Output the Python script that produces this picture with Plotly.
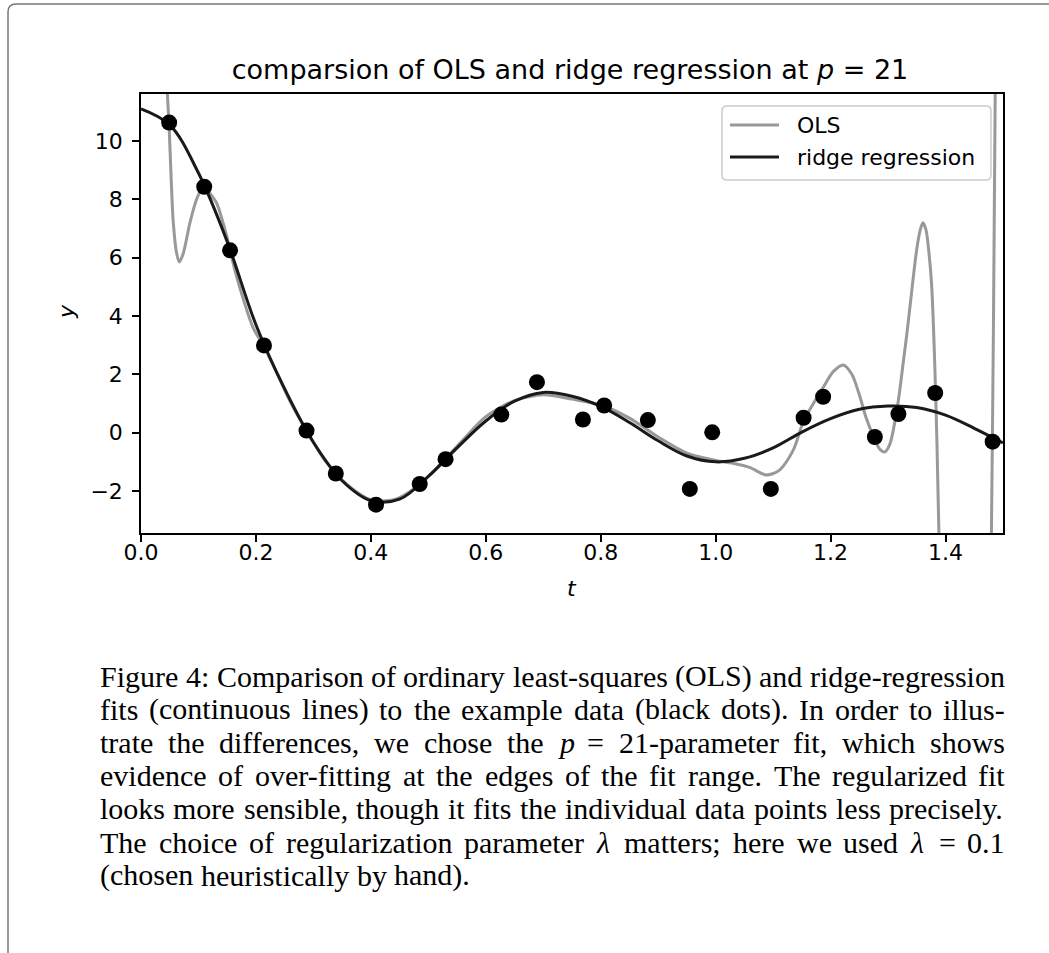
import re
import plotly.graph_objects as go

# ---- data ----
data_t = [0.049, 0.110, 0.155, 0.214, 0.288, 0.339, 0.409, 0.485, 0.530, 0.627, 0.689, 0.769,
          0.806, 0.882, 0.955, 0.994, 1.096, 1.153, 1.187, 1.277, 1.318, 1.382, 1.482]
data_y = [10.63, 8.43, 6.25, 2.99, 0.07, -1.40, -2.47, -1.76, -0.91, 0.62, 1.73, 0.45,
          0.93, 0.43, -1.93, 0.01, -1.93, 0.51, 1.23, -0.15, 0.64, 1.36, -0.31]

ols_t = [0.030, 0.040, 0.046, 0.0487, 0.0525, 0.0562, 0.062, 0.0667, 0.0736, 0.0852, 0.0968,
         0.106, 0.113, 0.122, 0.132, 0.149, 0.155, 0.165, 0.18, 0.195, 0.214, 0.235, 0.26,
         0.288, 0.32, 0.36, 0.40, 0.44, 0.48, 0.52, 0.56, 0.60, 0.65, 0.70, 0.75, 0.80, 0.85,
         0.90, 0.95, 1.00, 1.03, 1.06, 1.088, 1.11, 1.135, 1.153, 1.17, 1.187, 1.205, 1.222,
         1.237, 1.25, 1.262, 1.275, 1.285, 1.294, 1.303, 1.313, 1.32, 1.327, 1.334, 1.342,
         1.35, 1.356, 1.3606, 1.366, 1.371, 1.376, 1.381, 1.385, 1.39, 1.40, 1.43, 1.46,
         1.473, 1.4795, 1.4815, 1.4835, 1.4875, 1.495, 1.50]
ols_y = [40, 16, 11.6, 10.6, 8.7, 7.2, 6.15, 5.85, 6.15, 7.2, 8.0,
         8.35, 8.35, 8.15, 7.85, 6.75, 6.25, 5.45, 4.45, 3.6, 2.95, 2.1, 1.05,
         0.07, -0.95, -1.8, -2.3, -2.3, -1.85, -1.1, -0.25, 0.55, 1.1, 1.3, 1.15, 0.95, 0.5,
         -0.15, -0.7, -0.95, -1.05, -1.2, -1.45, -1.3, -0.6, 0.4, 1.0, 1.55, 2.1, 2.32,
         2.0, 1.3, 0.5, -0.15, -0.55, -0.66, -0.4, 0.5, 1.4, 2.5, 3.6, 5.0,
         6.3, 6.95, 7.2, 6.95, 6.2, 5.0, 2.5, -0.3, -5, -30, -120, -60,
         -15, -4, -0.3, 4, 15, 50, 80]

ridge_t = [0.00, 0.05, 0.10, 0.15, 0.20, 0.25, 0.30, 0.35, 0.40, 0.45, 0.50, 0.55, 0.60, 0.65,
           0.70, 0.75, 0.80, 0.85, 0.90, 0.95, 1.00, 1.05, 1.10, 1.15, 1.20, 1.25, 1.30, 1.35,
           1.40, 1.45, 1.50]
ridge_y = [11.10, 10.55, 8.90, 6.55, 3.70, 1.50, -0.33, -1.65, -2.33, -2.28, -1.50, -0.52, 0.40,
           1.08, 1.38, 1.25, 0.90, 0.35, -0.28, -0.80, -1.00, -0.88, -0.52, 0.02, 0.48, 0.80,
           0.91, 0.86, 0.60, 0.15, -0.35]

x_ticks = [0.0, 0.2, 0.4, 0.6, 0.8, 1.0, 1.2, 1.4]
x_ticklabels = ["0.0", "0.2", "0.4", "0.6", "0.8", "1.0", "1.2", "1.4"]
y_ticks = [-2, 0, 2, 4, 6, 8, 10]
y_ticklabels = ["\u22122", "0", "2", "4", "6", "8", "10"]

legend_names = ["OLS", "ridge regression"]

caption_lines = [
    "Figure 4: Comparison of ordinary least-squares (OLS) and ridge-regression",
    "fits (continuous lines) to the example data (black dots). In order to illus-",
    "trate the differences, we chose the <i>p</i> = 21-parameter fit, which shows",
    "evidence of over-fitting at the edges of the fit range. The regularized fit",
    "looks more sensible, though it fits the individual data points less precisely.",
    "The choice of regularization parameter <i>\u03bb</i> matters; here we used <i>\u03bb</i> = 0.1",
    "(chosen heuristically by hand).",
]
caption_justified = [True, True, True, True, True, True, False]

# ---- layout geometry (pixels) ----
W, H = 1049, 953
L, R, T, B = 141, 1003, 94, 533
PW, PH = R - L, B - T


def px(X):
    return (X - L) / PW


def py(Y):
    return (B - Y) / PH


SANS = "DejaVu Sans"
SERIF = "Liberation Serif"
GRAY = "#999999"
DARK = "#1a1a1a"

fig = go.Figure()
fig.add_trace(go.Scatter(x=ols_t, y=ols_y, mode="lines", name=legend_names[0],
                         line=dict(color=GRAY, width=3, shape="spline", smoothing=0.8)))
fig.add_trace(go.Scatter(x=ridge_t, y=ridge_y, mode="lines", name=legend_names[1],
                         line=dict(color=DARK, width=3, shape="spline", smoothing=1.0)))
fig.add_trace(go.Scatter(x=data_t, y=data_y, mode="markers", name="data",
                         marker=dict(color="black", size=16, line=dict(width=0))))

axis_common = dict(showgrid=False, zeroline=False, showline=True, linecolor="black",
                   linewidth=1.5, mirror=True, ticks="outside", ticklen=7, tickwidth=1.5,
                   tickcolor="black", tickfont=dict(family=SANS, size=22, color="black"))

fig.update_layout(
    width=W, height=H,
    margin=dict(l=L, r=W - R, t=T, b=H - B, pad=0),
    paper_bgcolor="white", plot_bgcolor="white",
    xaxis=dict(range=[0, 1.5], tickvals=x_ticks, ticktext=x_ticklabels,
               ticklabelstandoff=-8, **axis_common),
    yaxis=dict(range=[-3.44, 11.61], tickvals=y_ticks, ticktext=y_ticklabels,
               ticklabelstandoff=5, **axis_common),
    title=dict(text="comparsion of OLS and ridge regression at <i>p</i> = 21",
               font=dict(family=SANS, size=27, color="black"),
               x=px(570), xref="paper", xanchor="center",
               y=1 - 70 / H, yref="container", yanchor="middle"),
    showlegend=False,
)

annotations = [
    dict(text="<i>t</i>", x=px(572), y=py(588), xref="paper", yref="paper",
         xanchor="center", yanchor="middle", showarrow=False,
         font=dict(family=SANS, size=22, color="black")),
    dict(text="<i>y</i>", x=px(66), y=py(312), xref="paper", yref="paper",
         xanchor="center", yanchor="middle", showarrow=False, textangle=-90,
         font=dict(family=SANS, size=22, color="black")),
]

# ---- hand-drawn legend (matplotlib style) ----
lx0, lx1, ly0, ly1, rad = 722, 991, 106, 180, 5
legend_path = (f"M {px(lx0 + rad)},{py(ly0)} L {px(lx1 - rad)},{py(ly0)} "
               f"Q {px(lx1)},{py(ly0)} {px(lx1)},{py(ly0 + rad)} "
               f"L {px(lx1)},{py(ly1 - rad)} Q {px(lx1)},{py(ly1)} {px(lx1 - rad)},{py(ly1)} "
               f"L {px(lx0 + rad)},{py(ly1)} Q {px(lx0)},{py(ly1)} {px(lx0)},{py(ly1 - rad)} "
               f"L {px(lx0)},{py(ly0 + rad)} Q {px(lx0)},{py(ly0)} {px(lx0 + rad)},{py(ly0)} Z")
fig.add_shape(type="path", xref="paper", yref="paper", path=legend_path, layer="above",
              fillcolor="rgba(255,255,255,0.8)", line=dict(color="#cccccc", width=1.5))
for name, col, yy in zip(legend_names, [GRAY, DARK], [125, 157]):
    fig.add_shape(type="line", xref="paper", yref="paper", layer="above",
                  x0=px(730), x1=px(779), y0=py(yy), y1=py(yy),
                  line=dict(color=col, width=3))
    annotations.append(dict(text=name, x=px(795), y=py(yy), xref="paper", yref="paper",
                            xanchor="left", yanchor="middle", showarrow=False,
                            font=dict(family=SANS, size=22, color="black")))

# ---- caption, justified word by word (Times-compatible advance widths) ----
TW = {' ': 250, '!': 333, '(': 333, ')': 333, ',': 250, '-': 333, '.': 250, ':': 278,
      ';': 278, '=': 564, '0': 500, '1': 500, '2': 500, '3': 500, '4': 500, '5': 500,
      '6': 500, '7': 500, '8': 500, '9': 500,
      'A': 722, 'B': 667, 'C': 667, 'D': 722, 'E': 611, 'F': 556, 'G': 722, 'H': 722,
      'I': 333, 'J': 389, 'K': 722, 'L': 611, 'M': 889, 'N': 722, 'O': 722, 'P': 556,
      'Q': 722, 'R': 667, 'S': 556, 'T': 611, 'U': 722, 'V': 722, 'W': 944, 'X': 722,
      'Y': 722, 'Z': 611,
      'a': 444, 'b': 500, 'c': 444, 'd': 500, 'e': 444, 'f': 333, 'g': 500, 'h': 500,
      'i': 278, 'j': 278, 'k': 500, 'l': 278, 'm': 778, 'n': 500, 'o': 500, 'p': 500,
      'q': 500, 'r': 333, 's': 389, 't': 278, 'u': 500, 'v': 500, 'w': 722, 'x': 500,
      'y': 500, 'z': 444, '\u03bb': 550}
CAP_SIZE = 30
CAP_LEFT, CAP_RIGHT = 100, 1005
cap_y = [676, 709, 742, 775, 808, 842, 875]


def word_width(w):
    plain = re.sub(r"<[^>]+>", "", w)
    return sum(TW.get(c, 500) for c in plain) * CAP_SIZE / 1000.0


for line, yc, just in zip(caption_lines, cap_y, caption_justified):
    words = line.split(" ")
    widths = [word_width(w) for w in words]
    if just and len(words) > 1:
        gap = (CAP_RIGHT - CAP_LEFT - sum(widths)) / (len(words) - 1)
    else:
        gap = TW[' '] * CAP_SIZE / 1000.0
    xcur = CAP_LEFT
    for w, ww in zip(words, widths):
        annotations.append(dict(text=w, x=px(xcur), y=py(yc), xref="paper", yref="paper",
                                xanchor="left", yanchor="middle", showarrow=False,
                                borderpad=0, borderwidth=0,
                                font=dict(family=SERIF, size=CAP_SIZE, color="black")))
        xcur += ww + gap

fig.update_layout(annotations=annotations)

# page frame (left and top edges with rounded corner)
x0, y0 = px(8), py(4)
x1, ybot = px(1049 + 5), py(953 + 5)
rx, ry = 8 / PW, 8 / PH
fig.add_shape(type="path", xref="paper", yref="paper",
              path=f"M {x0},{ybot} L {x0},{y0 - ry} Q {x0},{y0} {x0 + rx},{y0} L {x1},{y0}",
              line=dict(color="#777777", width=1.5))

fig.write_html("out.html",
               config={"displayModeBar": False},
               post_script="document.body.style.margin='0px';"
                           "document.documentElement.style.overflow='hidden';")
